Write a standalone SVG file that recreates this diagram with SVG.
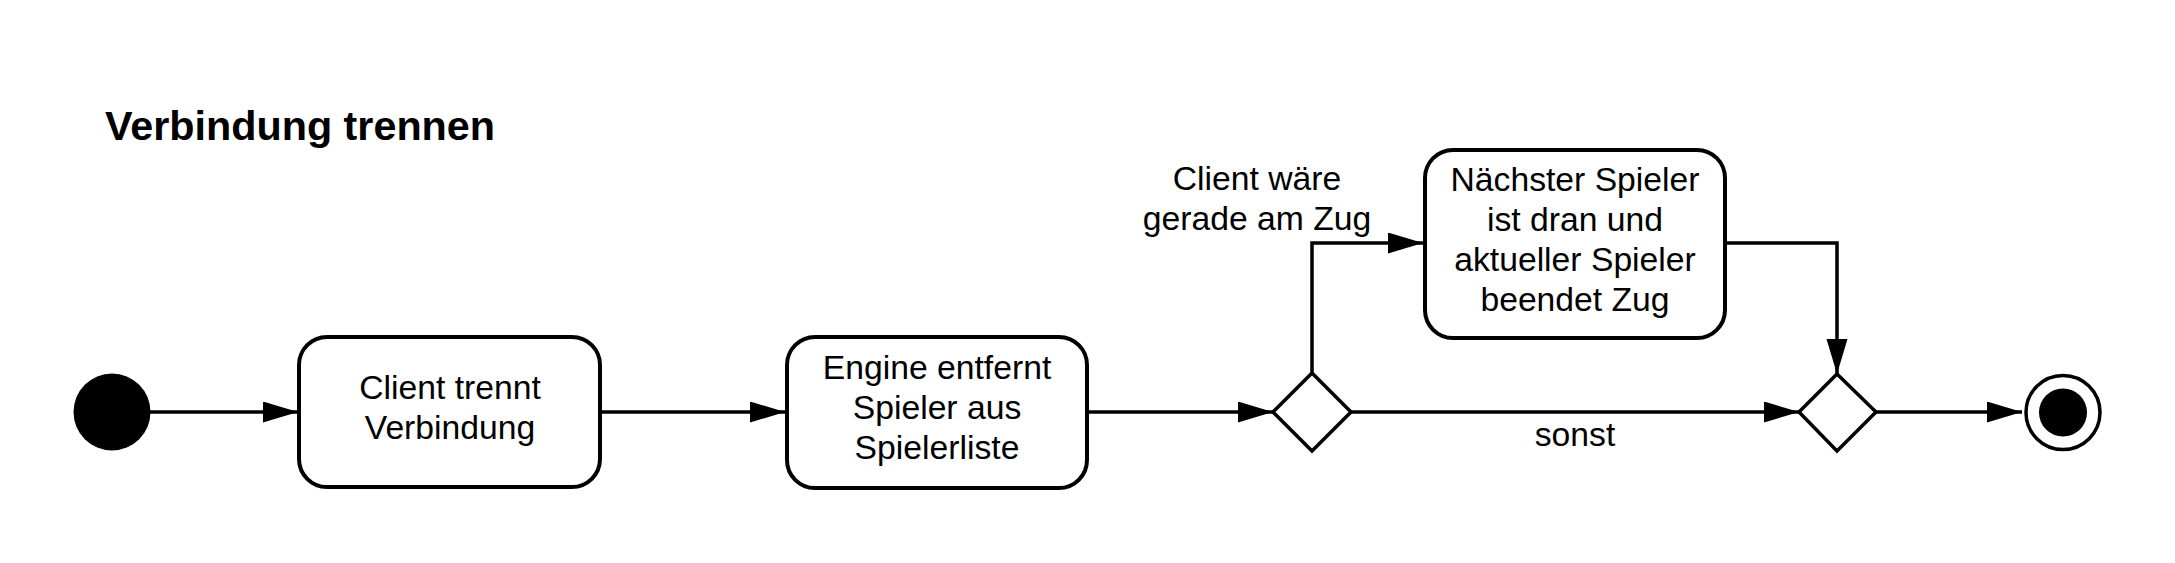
<svg xmlns="http://www.w3.org/2000/svg" width="2175" height="563" viewBox="0 0 2175 563">
<style>
.node{fill:#fff;stroke:#000;stroke-width:4}
.dia{fill:#fff;stroke:#000;stroke-width:3.5}
.edge{fill:none;stroke:#000;stroke-width:3.5}
.t{font-family:"Liberation Sans",Arial,sans-serif;font-size:33.7px;fill:#000;text-anchor:middle}
.title{font-family:"Liberation Sans",Arial,sans-serif;font-size:41.3px;font-weight:bold;fill:#000}
</style>
<defs>
<marker id="arr" markerUnits="userSpaceOnUse" markerWidth="36" markerHeight="22" refX="35" refY="10.5" orient="auto">
<path d="M0,0 L35,10.5 L0,21 Z" fill="#000"/>
</marker>
</defs>
<rect width="2175" height="563" fill="#fff"/>
<text class="title" x="105" y="140">Verbindung trennen</text>
<g id="connectors">
<path class="edge" d="M150,412 H298" marker-end="url(#arr)"/>
<path class="edge" d="M601,412 H785" marker-end="url(#arr)"/>
<path class="edge" d="M1089,412 H1273" marker-end="url(#arr)"/>
<path class="edge" d="M1312,373 V243 H1423" marker-end="url(#arr)"/>
<path class="edge" d="M1351,412 H1799" marker-end="url(#arr)"/>
<path class="edge" d="M1727,243 H1837 V374" marker-end="url(#arr)"/>
<path class="edge" d="M1876,412 H2022" marker-end="url(#arr)"/>
<text class="t" x="1257" y="190">Client wäre</text>
<text class="t" x="1257" y="230">gerade am Zug</text>
<text class="t" x="1575" y="446">sonst</text>
</g>
<g id="start">
<circle cx="112" cy="412" r="38.5" fill="#000"/>
</g>
<g id="n1">
<rect class="node" x="299" y="337" width="301" height="150" rx="28"/>
<text class="t" x="450" y="399">Client trennt</text>
<text class="t" x="450" y="439">Verbindung</text>
</g>
<g id="n2">
<rect class="node" x="787" y="337" width="300" height="151" rx="28"/>
<text class="t" x="937" y="379">Engine entfernt</text>
<text class="t" x="937" y="419">Spieler aus</text>
<text class="t" x="937" y="459">Spielerliste</text>
</g>
<g id="d1">
<polygon class="dia" points="1312,373 1351,412 1312,451 1273,412"/>
</g>
<g id="n3">
<rect class="node" x="1425" y="150" width="300" height="188" rx="28"/>
<text class="t" x="1575" y="191">Nächster Spieler</text>
<text class="t" x="1575" y="231">ist dran und</text>
<text class="t" x="1575" y="271">aktueller Spieler</text>
<text class="t" x="1575" y="311">beendet Zug</text>
</g>
<g id="d2">
<polygon class="dia" points="1837,374 1876,412 1837,451 1799,412"/>
</g>
<g id="end">
<circle cx="2063" cy="412.5" r="37" fill="#fff" stroke="#000" stroke-width="3.5"/>
<circle cx="2063" cy="412.5" r="24" fill="#000"/>
</g>
</svg>
